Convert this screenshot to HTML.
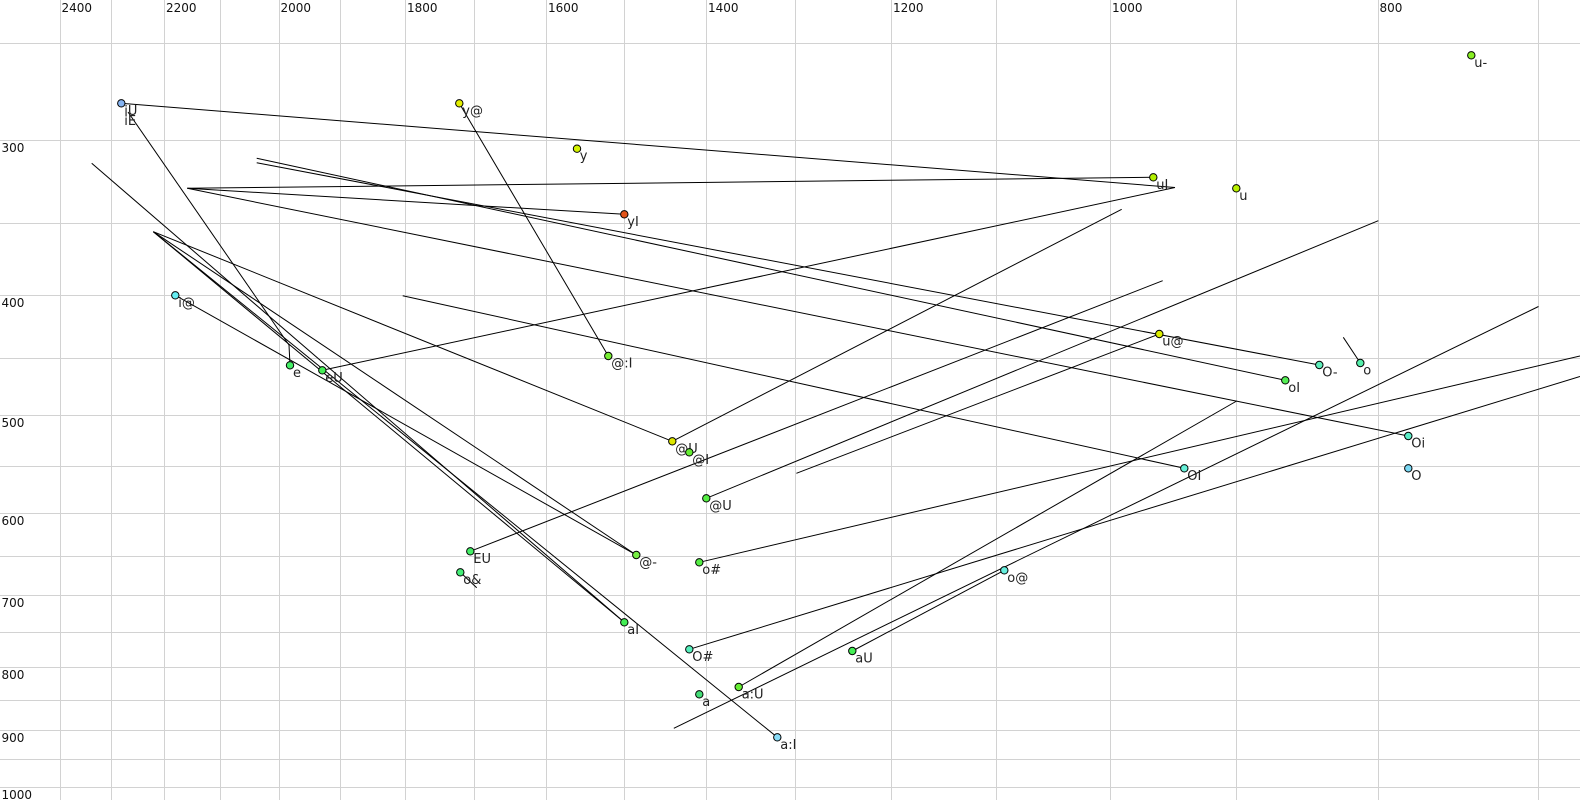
<!DOCTYPE html>
<html>
<head>
<meta charset="utf-8">
<style>
html,body{margin:0;padding:0;background:#fff;}
svg{display:block;}
.ax{font-family:"DejaVu Sans","Liberation Sans",sans-serif;font-size:12px;fill:#111;}
.lb{font-family:"DejaVu Sans","Liberation Sans",sans-serif;font-size:13px;fill:#222;}
</style>
</head>
<body>
<svg width="1580" height="800" viewBox="0 0 1580 800" xmlns="http://www.w3.org/2000/svg">
<rect x="0" y="0" width="1580" height="800" fill="#fff"/>
<!-- vertical grid -->
<g fill="#d2d2d2">
<rect x="60" y="0" width="1" height="800"/>
<rect x="111" y="0" width="1" height="800"/>
<rect x="164" y="0" width="1" height="800"/>
<rect x="220" y="0" width="1" height="800"/>
<rect x="279" y="0" width="1" height="800"/>
<rect x="340" y="0" width="1" height="800"/>
<rect x="405" y="0" width="1" height="800"/>
<rect x="474" y="0" width="1" height="800"/>
<rect x="546" y="0" width="1" height="800"/>
<rect x="624" y="0" width="1" height="800"/>
<rect x="706" y="0" width="1" height="800"/>
<rect x="795" y="0" width="1" height="800"/>
<rect x="891" y="0" width="1" height="800"/>
<rect x="996" y="0" width="1" height="800"/>
<rect x="1110" y="0" width="1" height="800"/>
<rect x="1236" y="0" width="1" height="800"/>
<rect x="1378" y="0" width="1" height="800"/>
<rect x="1538" y="0" width="1" height="800"/>
</g>
<!-- horizontal grid -->
<g fill="#d2d2d2">
<rect x="0" y="43" width="1580" height="1"/>
<rect x="0" y="140" width="1580" height="1"/>
<rect x="0" y="223" width="1580" height="1"/>
<rect x="0" y="295" width="1580" height="1"/>
<rect x="0" y="358" width="1580" height="1"/>
<rect x="0" y="415" width="1580" height="1"/>
<rect x="0" y="466" width="1580" height="1"/>
<rect x="0" y="513" width="1580" height="1"/>
<rect x="0" y="556" width="1580" height="1"/>
<rect x="0" y="595" width="1580" height="1"/>
<rect x="0" y="632" width="1580" height="1"/>
<rect x="0" y="667" width="1580" height="1"/>
<rect x="0" y="700" width="1580" height="1"/>
<rect x="0" y="730" width="1580" height="1"/>
<rect x="0" y="759" width="1580" height="1"/>
<rect x="0" y="787" width="1580" height="1"/>
</g>
<!-- axis labels -->
<g class="ax">
<text x="61.5" y="12">2400</text>
<text x="166" y="12">2200</text>
<text x="280.5" y="12">2000</text>
<text x="407" y="12">1800</text>
<text x="548" y="12">1600</text>
<text x="708" y="12">1400</text>
<text x="893" y="12">1200</text>
<text x="1112" y="12">1000</text>
<text x="1379.5" y="12">800</text>
<text x="1.5" y="152">300</text>
<text x="1.5" y="307">400</text>
<text x="1.5" y="427">500</text>
<text x="1.5" y="525">600</text>
<text x="1.5" y="607">700</text>
<text x="1.5" y="679">800</text>
<text x="1.5" y="742">900</text>
<text x="1.5" y="799">1000</text>
</g>
<!-- trajectory lines -->
<g stroke="#000" stroke-width="1" fill="none">
<line x1="121.3" y1="103.3" x2="1175" y2="187.5"/>
<line x1="187.3" y1="188.3" x2="1153.3" y2="177.3"/>
<line x1="187.3" y1="188.3" x2="624.3" y2="214.3"/>
<line x1="187.3" y1="188.3" x2="1408.3" y2="436"/>
<line x1="256.7" y1="158.3" x2="1285.3" y2="380.3"/>
<line x1="256.7" y1="162.7" x2="1319.3" y2="365"/>
<line x1="91.7" y1="163.3" x2="624.3" y2="622.3"/>
<line x1="153.3" y1="231.7" x2="672.3" y2="441.3"/>
<line x1="153.3" y1="231.7" x2="636.3" y2="555"/>
<line x1="153.3" y1="231.7" x2="624.3" y2="622.3"/>
<line x1="153.3" y1="231.7" x2="777.3" y2="737.3"/>
<line x1="175.3" y1="295.3" x2="636.3" y2="555"/>
<line x1="128" y1="112" x2="289" y2="345"/>
<line x1="289" y1="345" x2="290" y2="365.3"/>
<line x1="322.3" y1="370.3" x2="1175" y2="187.5"/>
<line x1="459.3" y1="103.3" x2="608.3" y2="356"/>
<line x1="402.7" y1="295.7" x2="1184.3" y2="468.3"/>
<line x1="672.3" y1="441.3" x2="1121.7" y2="209.3"/>
<line x1="470.3" y1="551.3" x2="1162.7" y2="280.7"/>
<line x1="706.3" y1="498.3" x2="1378.3" y2="220.7"/>
<line x1="796.4" y1="473.3" x2="1159.3" y2="334"/>
<line x1="699.3" y1="562.3" x2="1580" y2="356"/>
<line x1="689.3" y1="649.3" x2="1580" y2="376.5"/>
<line x1="738.7" y1="687" x2="1236.7" y2="401"/>
<line x1="673.8" y1="728.3" x2="1538.5" y2="306.5"/>
<line x1="852.3" y1="651" x2="1004.3" y2="570.3"/>
<line x1="460.3" y1="572.3" x2="476.7" y2="587.7"/>
<line x1="1343.3" y1="337.3" x2="1360.3" y2="363"/>
</g>
<!-- labels -->
<g class="lb">
<text x="124.3" y="114.8">iU</text>
<text x="124.3" y="125">iE</text>
<text x="462.3" y="114.8">y@</text>
<text x="579.7" y="160.2">y</text>
<text x="627.3" y="225.8">yI</text>
<text x="178.3" y="306.8">i@</text>
<text x="293" y="376.8">e</text>
<text x="325.3" y="381.8">eU</text>
<text x="611.3" y="367.5">@:I</text>
<text x="1474.3" y="66.8">u-</text>
<text x="1156.3" y="188.8">uI</text>
<text x="1239.3" y="199.8">u</text>
<text x="1162.3" y="345.5">u@</text>
<text x="1322.3" y="376.5">O-</text>
<text x="1363.3" y="374.5">o</text>
<text x="1288.3" y="391.8">oI</text>
<text x="1411.3" y="447.5">Oi</text>
<text x="1411.3" y="479.8">O</text>
<text x="1187.3" y="479.8">OI</text>
<text x="473.3" y="562.8">EU</text>
<text x="463.3" y="583.8">o&amp;</text>
<text x="675.3" y="452.8">@U</text>
<text x="692.3" y="463.8">@I</text>
<text x="709.3" y="509.8">@U</text>
<text x="639.3" y="566.5">@-</text>
<text x="702.3" y="573.8">o#</text>
<text x="627.3" y="633.8">aI</text>
<text x="692.3" y="660.8">O#</text>
<text x="855.3" y="662.5">aU</text>
<text x="1007.3" y="581.8">o@</text>
<text x="741.7" y="698.5">a:U</text>
<text x="702.3" y="705.8">a</text>
<text x="780.3" y="748.8">a:I</text>
</g>
<!-- points -->
<g stroke="#000" stroke-width="1">
<circle cx="121.3" cy="103.3" r="3.7" fill="#86b4f2"/>
<circle cx="459.3" cy="103.3" r="3.7" fill="#e2ee00"/>
<circle cx="577" cy="148.7" r="3.7" fill="#d4f200"/>
<circle cx="624.3" cy="214.3" r="3.7" fill="#e2541a"/>
<circle cx="175.3" cy="295.3" r="3.7" fill="#66eef2"/>
<circle cx="290" cy="365.3" r="3.7" fill="#44ee66"/>
<circle cx="322.3" cy="370.3" r="3.7" fill="#44ee55"/>
<circle cx="608.3" cy="356" r="3.7" fill="#77ee33"/>
<circle cx="1471.3" cy="55.3" r="3.7" fill="#88ee22"/>
<circle cx="1153.3" cy="177.3" r="3.7" fill="#b2f000"/>
<circle cx="1236.3" cy="188.3" r="3.7" fill="#b8f000"/>
<circle cx="1159.3" cy="334" r="3.7" fill="#dcee00"/>
<circle cx="1319.3" cy="365" r="3.7" fill="#5eeebb"/>
<circle cx="1360.3" cy="363" r="3.7" fill="#55eeaa"/>
<circle cx="1285.3" cy="380.3" r="3.7" fill="#55ee55"/>
<circle cx="1408.3" cy="436" r="3.7" fill="#5ceec8"/>
<circle cx="1408.3" cy="468.3" r="3.7" fill="#7ad8f4"/>
<circle cx="1184.3" cy="468.3" r="3.7" fill="#66f0d8"/>
<circle cx="470.3" cy="551.3" r="3.7" fill="#44ee66"/>
<circle cx="460.3" cy="572.3" r="3.7" fill="#44ee77"/>
<circle cx="672.3" cy="441.3" r="3.7" fill="#dde600"/>
<circle cx="689.3" cy="452.3" r="3.7" fill="#66ee33"/>
<circle cx="706.3" cy="498.3" r="3.7" fill="#55ee44"/>
<circle cx="636.3" cy="555" r="3.7" fill="#77ee44"/>
<circle cx="699.3" cy="562.3" r="3.7" fill="#55ee44"/>
<circle cx="624.3" cy="622.3" r="3.7" fill="#44ee55"/>
<circle cx="689.3" cy="649.3" r="3.7" fill="#55eebb"/>
<circle cx="852.3" cy="651" r="3.7" fill="#44ee55"/>
<circle cx="1004.3" cy="570.3" r="3.7" fill="#66eedd"/>
<circle cx="738.7" cy="687" r="3.7" fill="#66ee33"/>
<circle cx="699.3" cy="694.3" r="3.7" fill="#44dd77"/>
<circle cx="777.3" cy="737.3" r="3.7" fill="#88dcf8"/>
</g>
</svg>
</body>
</html>
